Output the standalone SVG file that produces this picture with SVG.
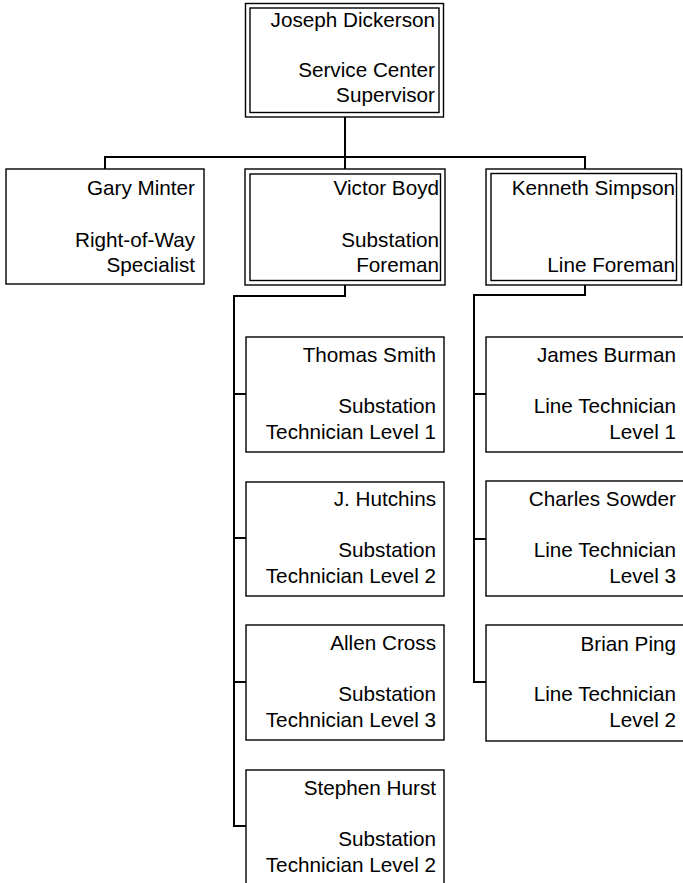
<svg xmlns="http://www.w3.org/2000/svg" width="683" height="883" viewBox="0 0 683 883">
<style>
.box{fill:#fff;stroke:#000;stroke-width:1.4}
.conn{fill:none;stroke:#000;stroke-width:2}
text{font-family:"Liberation Sans",Arial,sans-serif;font-size:20.7px;text-anchor:end;fill:#000}
</style>
<rect width="683" height="883" fill="#fff"/>
<g id="connectors">
<path class="conn" d="M345,117 V169"/>
<path class="conn" d="M105,169 V157 H585 V169"/>
<path class="conn" d="M345,285 V296 H234 V826 H246"/>
<path class="conn" d="M234,394 H246 M234,538 H246 M234,682 H246"/>
<path class="conn" d="M585,285 V295 H474 V682 H486"/>
<path class="conn" d="M474,394 H486 M474,539 H486"/>
</g>
<g id="joseph">
<rect class="box" x="245.5" y="3.5" width="198" height="113.5"/>
<rect class="box" x="250" y="8" width="189" height="104.5"/>
<text><tspan x="435" y="27">Joseph Dickerson</tspan><tspan x="435" y="77">Service Center</tspan><tspan x="435" y="102">Supervisor</tspan></text>
</g>
<g id="gary">
<rect class="box" x="6" y="169" width="198" height="115"/>
<text><tspan x="195" y="195">Gary Minter</tspan><tspan x="195" y="246.5">Right-of-Way</tspan><tspan x="195" y="272">Specialist</tspan></text>
</g>
<g id="victor">
<rect class="box" x="245" y="169" width="200" height="116"/>
<rect class="box" x="250" y="174" width="190.5" height="106.5"/>
<text><tspan x="439" y="195">Victor Boyd</tspan><tspan x="439" y="246.5">Substation</tspan><tspan x="439" y="272">Foreman</tspan></text>
</g>
<g id="kenneth">
<rect class="box" x="486" y="169" width="195.5" height="116"/>
<rect class="box" x="491" y="173.5" width="185.5" height="107"/>
<text><tspan x="675" y="195">Kenneth Simpson</tspan><tspan x="675" y="272">Line Foreman</tspan></text>
</g>
<g id="thomas">
<rect class="box" x="246" y="337" width="198" height="115"/>
<text><tspan x="436" y="362">Thomas Smith</tspan><tspan x="436" y="413">Substation</tspan><tspan x="436" y="439">Technician Level 1</tspan></text>
</g>
<g id="hutchins">
<rect class="box" x="246" y="482" width="198" height="114"/>
<text><tspan x="436" y="506">J. Hutchins</tspan><tspan x="436" y="557">Substation</tspan><tspan x="436" y="583">Technician Level 2</tspan></text>
</g>
<g id="allen">
<rect class="box" x="246" y="625" width="198" height="115"/>
<text><tspan x="436" y="650">Allen Cross</tspan><tspan x="436" y="701">Substation</tspan><tspan x="436" y="727">Technician Level 3</tspan></text>
</g>
<g id="stephen">
<rect class="box" x="246" y="770" width="198" height="115"/>
<text><tspan x="436" y="795">Stephen Hurst</tspan><tspan x="436" y="846">Substation</tspan><tspan x="436" y="872">Technician Level 2</tspan></text>
</g>
<g id="james">
<rect class="box" x="486" y="337" width="200" height="115"/>
<text><tspan x="676" y="362">James Burman</tspan><tspan x="676" y="413">Line Technician</tspan><tspan x="676" y="439">Level 1</tspan></text>
</g>
<g id="charles">
<rect class="box" x="486" y="481" width="200" height="115"/>
<text><tspan x="676" y="506">Charles Sowder</tspan><tspan x="676" y="557">Line Technician</tspan><tspan x="676" y="583">Level 3</tspan></text>
</g>
<g id="brian">
<rect class="box" x="486" y="625" width="200" height="116"/>
<text><tspan x="676" y="651">Brian Ping</tspan><tspan x="676" y="701">Line Technician</tspan><tspan x="676" y="727">Level 2</tspan></text>
</g>
</svg>
